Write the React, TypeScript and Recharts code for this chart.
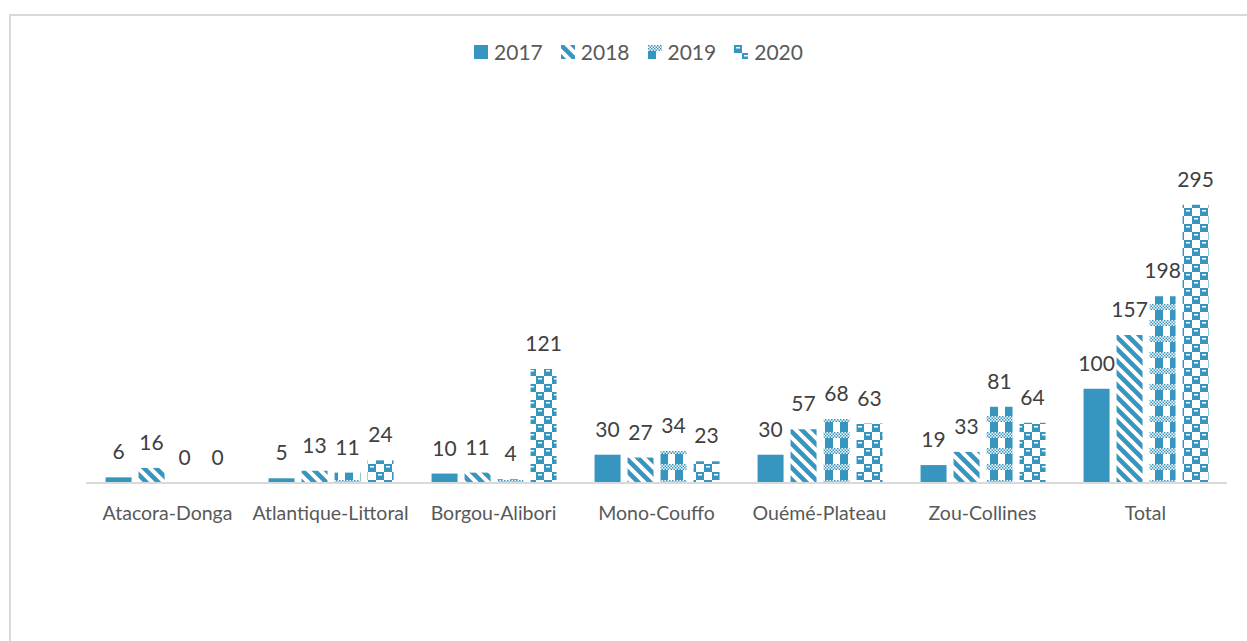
import { type FC } from 'react';
import { Bar, BarChart, LabelList, XAxis, YAxis } from 'recharts';

const categories = [
  'Atacora-Donga',
  'Atlantique-Littoral',
  'Borgou-Alibori',
  'Mono-Couffo',
  'Ouémé-Plateau',
  'Zou-Collines',
  'Total',
];
const values2017 = [6, 5, 10, 30, 30, 19, 100];
const values2018 = [16, 13, 11, 27, 57, 33, 157];
const values2019 = [0, 11, 4, 34, 68, 81, 198];
const values2020 = [0, 24, 121, 23, 63, 64, 295];
const years = ['2017', '2018', '2019', '2020'];

const data = categories.map((name, i) => ({
  name,
  '2017': values2017[i],
  '2018': values2018[i],
  '2019': values2019[i],
  '2020': values2020[i],
}));

const BLUE = '#3796bf';
const fills: Record<string, string> = {
  '2017': BLUE,
  '2018': 'url(#p2018)',
  '2019': 'url(#p2019)',
  '2020': 'url(#p2020)',
};

const font = 'Lato, "Noto Sans", sans-serif';

const Patterns = () => (
  <defs>
    <pattern id="p2018" width="12" height="12" patternUnits="userSpaceOnUse">
      <rect width="12" height="12" fill="#fff" />
      <path
        d="M-2,-2 L14,14 M-2,10 L2,14 M10,-2 L14,2"
        stroke={BLUE}
        strokeWidth="4.5"
      />
    </pattern>
    <pattern id="dots" width="3" height="3" patternUnits="userSpaceOnUse">
      <rect width="3" height="3" fill="#fff" />
      <rect width="1.5" height="1.5" fill={BLUE} />
      <rect x="1.5" y="1.5" width="1.5" height="1.5" fill={BLUE} />
    </pattern>
    <pattern id="p2019" width="15" height="16" patternUnits="userSpaceOnUse">
      <rect width="15" height="16" fill="#fff" />
      <rect width="8" height="16" fill={BLUE} />
      <rect y="0" width="15" height="6" fill="url(#dots)" />
    </pattern>
    <pattern id="p2020" width="16" height="16" patternUnits="userSpaceOnUse">
      <rect width="16" height="16" fill="#fff" />
      <rect width="8" height="8" fill={BLUE} />
      <rect x="8" y="8" width="8" height="8" fill={BLUE} />
      <rect x="2" y="2" width="4" height="1.5" fill="#fff" />
      <rect x="10" y="10" width="4" height="1.5" fill="#fff" />
    </pattern>
  </defs>
);

const LegendRow: FC = () => (
  <div
    style={{
      position: 'absolute',
      left: 274,
      width: 729,
      top: 40,
      display: 'flex',
      justifyContent: 'center',
      gap: 18,
      fontFamily: font,
      fontSize: 21,
      color: '#595959',
      lineHeight: '24px',
    }}
  >
    {years.map((y) => (
      <div key={y} style={{ display: 'flex', alignItems: 'center', gap: 6 }}>
        <svg width={14} height={14}>
          <rect width={14} height={14} fill={fills[y]} />
        </svg>
        <span>{y}</span>
      </div>
    ))}
  </div>
);

const App: FC = () => {
  return (
    <div style={{ position: 'absolute', left: 0, top: 0, width: 1247, height: 641 }}>
      <div
        style={{
          position: 'absolute',
          left: 9,
          top: 14,
          width: 1236,
          height: 625,
          borderLeft: '2px solid #d9d9d9',
          borderTop: '2px solid #d9d9d9',
        }}
      />
      <div style={{ position: 'absolute', left: 0, top: 0 }}>
        <BarChart
          width={1247}
          height={641}
          data={data}
          margin={{ top: 153, right: 20, bottom: 128, left: 86 }}
          barCategoryGap="12%"
          barGap={7}
          style={{ fontFamily: font }}
        >
          <Patterns />
          <XAxis
            dataKey="name"
            height={30}
            axisLine={{ stroke: '#d9d9d9', strokeWidth: 2 }}
            tickLine={false}
            tickMargin={17}
            tick={{ fill: '#595959', fontSize: 19.5, fontFamily: font }}
            interval={0}
          />
          <YAxis hide domain={[0, 350]} />
          {years.map((y) => (
            <Bar
              key={y}
              dataKey={y}
              fill={fills[y]}
              minPointSize={(v: number) => (v === 0 ? 0.01 : 0)}
              isAnimationActive={false}
            >
              <LabelList
                dataKey={y}
                position="top"
                offset={18}
                fill="#404040"
                fontSize={21}
                fontFamily={font}
              />
            </Bar>
          ))}
        </BarChart>
      </div>
      <LegendRow />
    </div>
  );
};

export default App;
